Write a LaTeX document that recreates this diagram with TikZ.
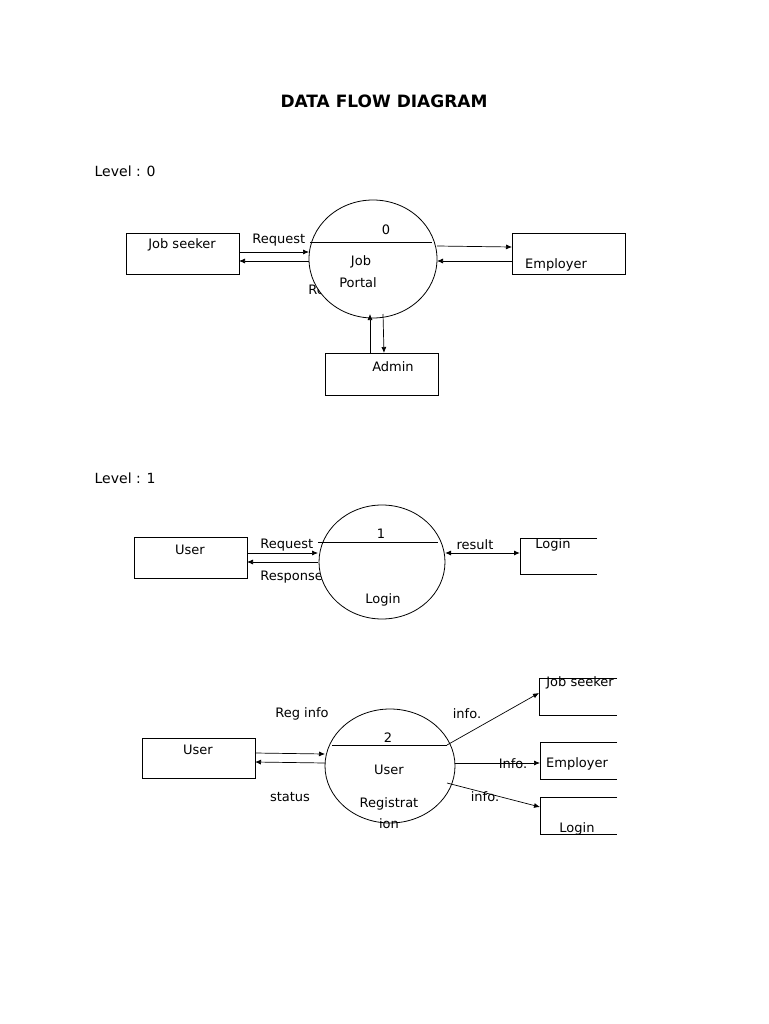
\documentclass[tikz,border=0pt]{standalone}
\usepackage{fontspec}
\setmainfont{DejaVu Sans}
\usetikzlibrary{arrows.meta}
\begin{document}
\begin{tikzpicture}[x=1pt,y=-1pt,
  lbl/.style={font=\fontsize{13}{15}\selectfont,inner sep=0pt},
  ent/.style={draw,line width=0.8pt},
  flow/.style={line width=0.7pt,-{Latex[length=6pt,width=5pt]}},
  line width=0.7pt]
\useasboundingbox (0,0) rectangle (768,1024);
\node[font=\bfseries\fontsize{17}{19}\selectfont] (title) at (384,101) {DATA FLOW DIAGRAM};
\node[font=\fontsize{14}{16}\selectfont,anchor=west] (l0) at (91,171) {Level : 0};
\node[font=\fontsize{14}{16}\selectfont,anchor=west] (l1) at (91,478) {Level : 1};

% Level 0
\draw[ent] (126,233) rectangle (239,274);
\node[lbl] (js) at (182,245) {Job seeker};
\draw[ent] (512,233) rectangle (625,274);
\node[lbl] (emp) at (556,265) {Employer};
\draw[ent] (325,353) rectangle (438,395);
\node[lbl] (adm) at (393,367) {Admin};
\node[lbl,anchor=west] (req0) at (252,240) {Request};
\node[lbl,anchor=west] (res0) at (308,290) {Re};
\draw[line width=0.8pt,fill=white] (373,259) ellipse [x radius=64,y radius=59];
\draw (310,242) -- (432,242);
\node[lbl] (p0n) at (386,230) {0};
\node[lbl] (p0a) at (361,262) {Job};
\node[lbl] (p0b) at (358,283) {Portal};
\coordinate (a1) at (239,252); \coordinate (a2) at (309,252);
\coordinate (a3) at (309,261); \coordinate (a4) at (239,261);
\draw[flow] (a1) -- (a2); \draw[flow] (a3) -- (a4);
\coordinate (b1) at (437,246); \coordinate (b2) at (512,247);
\coordinate (b3) at (512,261); \coordinate (b4) at (437,261);
\draw[flow] (b1) -- (b2); \draw[flow] (b3) -- (b4);
\coordinate (c1) at (370,353); \coordinate (c2) at (370,314);
\coordinate (c3) at (383,314); \coordinate (c4) at (384,353);
\draw[flow] (c1) -- (c2); \draw[flow] (c3) -- (c4);

% Level 1
\draw[ent] (134,537) rectangle (247,578);
\node[lbl] (u1) at (190,550) {User};
\node[lbl,anchor=west] (req1) at (260,545) {Request};
\node[lbl,anchor=west] (res1) at (260,577) {Response};
\draw[line width=0.8pt,fill=white] (382,562) ellipse [x radius=63,y radius=57];
\draw (318,542) -- (438,542);
\node[lbl] (p1n) at (381,534) {1};
\node[lbl] (p1) at (383,600) {Login};
\coordinate (d1) at (247,553); \coordinate (d2) at (318,553);
\coordinate (d3) at (318,562); \coordinate (d4) at (247,562);
\draw[flow] (d1) -- (d2); \draw[flow] (d3) -- (d4);
\node[lbl] (rs) at (475,545) {result};
\coordinate (e1) at (445,553); \coordinate (e2) at (520,553);
\draw[line width=1pt,{Latex[length=6pt,width=5pt]}-{Latex[length=6pt,width=5pt]}] (e1) -- (e2);
\draw[line width=0.8pt] (597,538) -- (520,538) -- (520,574) -- (597,574);
\node[lbl] (ls1) at (553,545) {Login};

% Level 2
\draw[ent] (142,738) rectangle (255,778);
\node[lbl] (u2) at (198,750) {User};
\node[lbl] (ri) at (302,714) {Reg info};
\node[lbl] (st) at (290,797) {status};
\draw[line width=0.8pt,fill=white] (390,766) ellipse [x radius=65,y radius=57];
\draw (332,745) -- (447,745);
\node[lbl] (p2n) at (388,738) {2};
\node[lbl] (p2a) at (389,770) {User};
\node[lbl] (p2b) at (389,804) {Registrat};
\node[lbl] (p2c) at (389,824) {ion};
\coordinate (f1) at (255,753); \coordinate (f2) at (325,754);
\coordinate (f3) at (325,763); \coordinate (f4) at (255,762);
\draw[flow] (f1) -- (f2); \draw[flow] (f3) -- (f4);
\draw[line width=0.8pt] (617,678) -- (539,678) -- (539,715) -- (617,715);
\node[lbl] (s1) at (580,683) {Job seeker};
\draw[line width=0.8pt] (617,742) -- (540,742) -- (540,779) -- (617,779);
\node[lbl] (s2) at (577,764) {Employer};
\draw[line width=0.8pt] (617,797) -- (540,797) -- (540,834) -- (617,834);
\node[lbl] (s3) at (577,829) {Login};
\node[lbl] (i1) at (467,714) {info.};
\node[lbl] (i2) at (513,764) {Info.};
\node[lbl] (i3) at (485,797) {info.};
\coordinate (g1) at (447,745); \coordinate (g2) at (539,693);
\coordinate (g3) at (455,763); \coordinate (g4) at (540,763);
\coordinate (g5) at (447,783); \coordinate (g6) at (540,807);
\draw[flow] (g1) -- (g2); \draw[flow] (g3) -- (g4); \draw[flow] (g5) -- (g6);
\end{tikzpicture}
\end{document}
